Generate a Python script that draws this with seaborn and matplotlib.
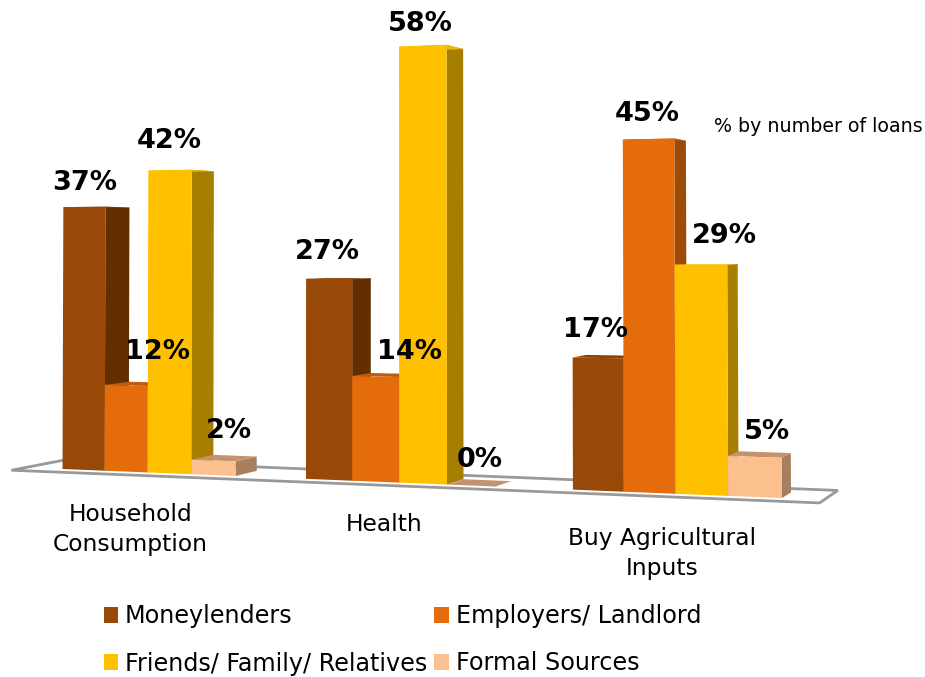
import numpy as np
import pandas as pd
import matplotlib
matplotlib.use("Agg")
import matplotlib.pyplot as plt
from matplotlib.patches import Polygon
from matplotlib.transforms import Affine2D, Transform
import seaborn as sns

purposes = ["Household\nConsumption", "Health", "Buy Agricultural\nInputs"]
sources = ["Moneylenders", "Employers/ Landlord", "Friends/ Family/ Relatives", "Formal Sources"]
moneylenders = [37, 27, 17]
employers = [12, 14, 45]
friends = [42, 58, 29]
formal = [2, 0, 5]
note = "% by number of loans"

front_colors = ["#984807", "#E46C0A", "#FFC000", "#FCC08E"]
side_colors = ["#632F00", "#9C4B08", "#A67F00", "#A67F5F"]
top_colors = ["#8A4006", "#C05A0C", "#F0B800", "#C4926E"]

W, H = 925, 677
BAR_GROUP = 0.72
VANISH = np.array([1205.0, 240.0])
BAR_DEPTH = 0.0218
FLOOR_BACK = 0.036
FLOOR_FRONT = -0.012

# calibration of the receding front plane: (x, y) in data -> image pixel
cal_data = np.array([(-.36, 0), (-.36, 37), (0, 0), (0, 42), (1, 0), (1, 58),
                     (1.82, 0), (1.82, 45), (2.18, 0), (2.18, 29)], float)
cal_px = np.array([(63, 469), (63, 208), (148, 472), (148, 168), (399, 484), (399, 48),
                   (623, 493), (623, 141), (728, 495), (728, 262)], float)
A, b = [], []
for (x, y), (u, v) in zip(cal_data, cal_px):
    A.append([x, y, 1, 0, 0, 0, -u * x, -u * y]); b.append(u)
    A.append([0, 0, 0, x, y, 1, -v * x, -v * y]); b.append(v)
h = np.linalg.lstsq(np.array(A), np.array(b), rcond=None)[0]
HOMOG = np.append(h, 1).reshape(3, 3)


def project(pts):
    pts = np.atleast_2d(pts)
    q = np.c_[pts, np.ones(len(pts))] @ HOMOG.T
    return q[:, :2] / q[:, 2:]


def recede(px, d):
    return px + d * (VANISH - px)


class Perspective(Transform):
    input_dims = output_dims = 2
    is_separable = False
    has_inverse = False

    def transform_non_affine(self, values):
        return project(values)


flip = Affine2D().scale(1, -1).translate(0, H)
persp = Perspective() + flip

sns.set_theme(style="white")
plt.rcParams["font.family"] = ["DejaVu Sans"]
plt.rcParams["text.color"] = "black"

df = pd.DataFrame({
    "Purpose": np.repeat(purposes, len(sources)),
    "Source": sources * len(purposes),
    "Share": np.ravel(np.column_stack([moneylenders, employers, friends, formal])),
})

fig = plt.figure(figsize=(W / 100, H / 100), dpi=100, facecolor="white")
ax = fig.add_axes([0, 0, 1, 1])
sns.barplot(data=df, x="Purpose", y="Share", hue="Source", hue_order=sources,
            order=purposes, palette=front_colors, saturation=1, width=BAR_GROUP,
            gap=0, ax=ax, zorder=5, linewidth=0)
ax.set_xlim(-1, 3)
ax.set_ylim(0, 70)
ax.axis("off")

# floor
xl, xr = -0.52, 2.50
fl = project([(xl, 0), (xr, 0)])
floor = np.array([recede(fl[0], FLOOR_FRONT), recede(fl[1], FLOOR_FRONT),
                  recede(fl[1], FLOOR_BACK), recede(fl[0], FLOOR_BACK)])
ax.add_patch(Polygon(floor, closed=True, transform=flip, facecolor="white",
                     edgecolor="#999999", linewidth=2, zorder=1, clip_on=False))

# bars: perspective front faces, computed side and top faces
label_offsets = [[(0, 24), (31, 33), (-1, 29), (16, 30)],
                 [(-2, 27), (34, 24), (-2, 22), (9, 26)],
                 [(-2, 28), (-1, 25), (23, 29), (12, 25)]]
for k, cont in enumerate(ax.containers):
    for g, bar in enumerate(cont):
        x0, x1 = bar.get_x(), bar.get_x() + bar.get_width()
        val = bar.get_height()
        bar.set_transform(persp)
        bar.set_clip_on(False)
        p = project([(x1, 0), (x1, val), (x0, val)])
        side = np.array([p[0], p[1], recede(p[1], BAR_DEPTH), recede(p[0], BAR_DEPTH)])
        top = np.array([p[2], p[1], recede(p[1], BAR_DEPTH), recede(p[2], BAR_DEPTH)])
        if val > 0:
            ax.add_patch(Polygon(side, closed=True, transform=flip, facecolor=side_colors[k],
                                 edgecolor="none", zorder=3, clip_on=False))
        ax.add_patch(Polygon(top, closed=True, transform=flip, facecolor=top_colors[k],
                             edgecolor="none", zorder=3, clip_on=False))
        ax.annotate(f"{val:.0f}%", xy=((x0 + x1) / 2, val), xycoords=persp,
                    xytext=label_offsets[g][k], textcoords="offset pixels",
                    ha="center", va="center", fontsize=19.5, fontweight="bold",
                    color="black", zorder=8, annotation_clip=False)

# category labels
label_px = [(-17, 57), (-15, 42), (-13, 60)]
for g, name in enumerate(purposes):
    ax.annotate(name, xy=(g, 0), xycoords=persp, xytext=(label_px[g][0], -label_px[g][1]),
                textcoords="offset pixels", ha="center", va="center", fontsize=16.8,
                linespacing=1.4, color="black", annotation_clip=False)

ax.text(818 / W, 1 - 127 / H, note, transform=ax.transAxes, ha="center", va="center",
        fontsize=13.7, color="black")

handles, labels = ax.get_legend_handles_labels()
order = [0, 2, 1, 3]
ax.legend([handles[i] for i in order], [labels[i] for i in order],
          loc="lower left", bbox_to_anchor=(82 / W, 1 - 697 / H), ncol=2,
          frameon=False, fontsize=17.2, handlelength=0.62, handleheight=0.62,
          handletextpad=0.28, columnspacing=0.3, labelspacing=0.97, labelcolor="black")

fig.savefig("out.png", dpi=100, facecolor="white")
